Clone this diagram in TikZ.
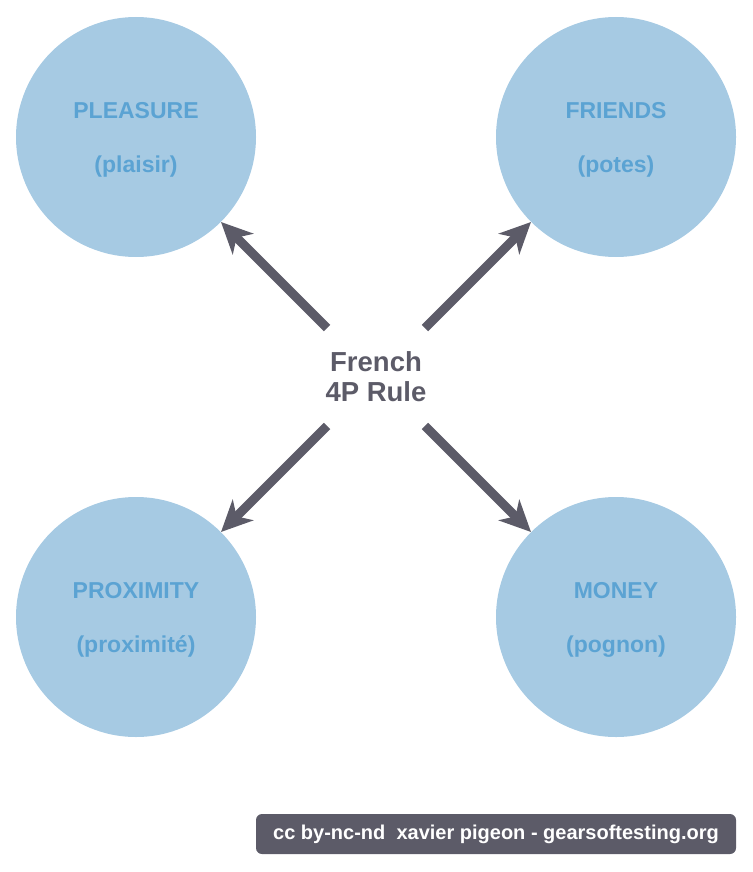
\documentclass[tikz,border=0pt]{standalone}
\usepackage{fontspec}
\setmainfont{Liberation Sans}
\usetikzlibrary{arrows.meta}
\definecolor{bulle}{HTML}{A6CAE3}
\definecolor{bleu}{HTML}{5BA3D3}
\definecolor{ardoise}{HTML}{5C5B68}
\newcommand{\haut}{\rule{0pt}{22.5pt}}
\begin{document}
\begin{tikzpicture}[x=1pt,y=-1pt,>={Stealth[length=31pt,width=29pt,inset=9pt]},
		bulle/.style={circle,fill=bulle,minimum size=240pt,inner sep=0pt,text=bleu,align=center,font=\bfseries\fontsize{23}{54}\selectfont},
		fleche/.style={->,draw=ardoise,line width=9pt}]
	\useasboundingbox (0,0) rectangle (752,872);
	\node[bulle] (pleasure) at (136,137) {\haut PLEASURE\\(plaisir)};
	\node[bulle] (friends) at (616,137) {\haut FRIENDS\\(potes)};
	\node[bulle] (proximity) at (136,617) {\haut PROXIMITY\\(proximité)};
	\node[bulle] (money) at (616,617) {\haut MONEY\\(pognon)};
	\node[circle,minimum size=138pt,inner sep=0pt,text=ardoise,align=center,font=\bfseries\fontsize{27.5}{30}\selectfont] (rule) at (376,377) {French\\4P Rule};
	\draw[fleche] (rule) -- (pleasure);
	\draw[fleche] (rule) -- (friends);
	\draw[fleche] (rule) -- (proximity);
	\draw[fleche] (rule) -- (money);
	\node[fill=ardoise,rounded corners=6pt,minimum width=480pt,minimum height=40pt,text=white,font=\bfseries\fontsize{20}{22}\selectfont] (credit) at (496,834) {cc by-nc-nd\ \ xavier pigeon - gearsoftesting.org};
\end{tikzpicture}
\end{document}
